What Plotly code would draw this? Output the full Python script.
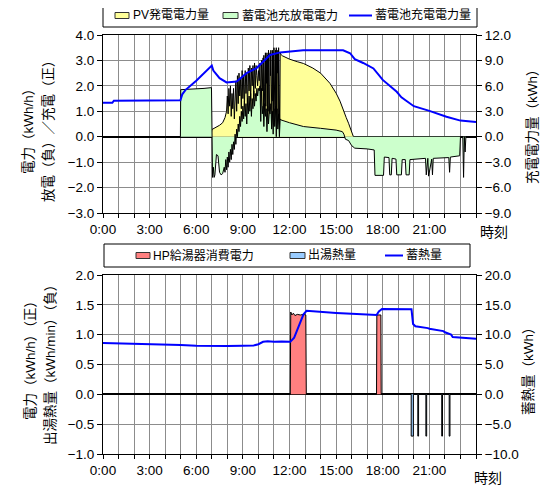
import plotly.graph_objects as go

# ---------------- data: top chart (hours, kWh/h / kWh) ----------------
pv_t = [0, 6.95, 7.0, 7.25, 7.5, 7.7, 7.85, 7.95,
        8.00, 8.05, 8.10, 8.15, 8.20, 8.25, 8.30, 8.35, 8.40, 8.45, 8.50, 8.55,
        8.60, 8.65, 8.70, 8.75, 8.80, 8.85, 8.90, 8.95, 9.00, 9.05, 9.10, 9.15,
        9.20, 9.25, 9.30, 9.35, 9.40, 9.45, 9.50, 9.55, 9.60, 9.65, 9.70, 9.75,
        9.80, 9.85, 9.90, 9.95, 10.00, 10.05, 10.10, 10.15, 10.20, 10.25,
        10.300, 10.325, 10.350, 10.375, 10.400, 10.425, 10.450, 10.475, 10.500,
        10.525, 10.550, 10.575, 10.600, 10.625, 10.650, 10.675, 10.700, 10.725,
        10.750, 10.775, 10.800, 10.825, 10.850, 10.875, 10.900, 10.925, 10.950,
        10.975, 11.000, 11.025, 11.050, 11.075, 11.100, 11.125, 11.150, 11.175,
        11.200, 11.225, 11.250, 11.275, 11.300, 11.325, 11.350, 11.375, 11.400,
        11.425, 11.55, 12.0, 12.5, 12.9, 13.5, 14.0, 14.6, 15.0,
        15.25, 15.45, 15.65, 15.8, 16.0, 16.1, 16.15, 24]
pv_v = [0, 0, 0.28, 0.35, 0.45, 0.55, 0.75, 1.0,
        1.6, 0.9, 1.9, 1.2, 2.0, 0.8, 1.7, 1.1, 1.9, 0.7, 1.5, 2.2,
        1.0, 2.4, 1.3, 2.5, 1.6, 2.3, 1.1, 2.6, 1.5, 2.4, 1.2, 2.6,
        1.7, 2.5, 0.9, 2.7, 1.8, 2.8, 1.4, 2.7, 2.0, 2.8, 1.6, 2.9,
        1.9, 2.8, 2.4, 2.0, 2.6, 2.2, 2.9, 1.0, 3.0, 1.8,
        3.1, 0.8, 3.2, 1.6, 2.9, 0.4, 3.3, 1.2, 3.0,
        2.1, 3.3, 0.3, 3.2, 1.0, 3.4, 1.8, 3.1, 0.5,
        3.3, 2.4, 3.4, 0.9, 3.2, 0.2, 3.4, 1.4, 3.3,
        0.6, 3.5, 2.0, 3.3, 0.1, 3.4, 1.1, 3.5, 0.3,
        3.3, 2.5, 3.4, 0.4, 3.5, 0.9, 3.2, 0.1, 3.3,
        3.25, 3.18, 3.05, 2.95, 2.88, 2.7, 2.5, 2.1, 1.71,
        1.4, 1.05, 0.75, 0.53, 0.13, 0.02, 0, 0]

bat_t = [0, 4.98, 5.0, 5.5, 6.0, 6.5, 6.98,
         7.0, 7.05, 7.1, 7.15, 7.2, 7.3, 7.4, 7.5, 7.6, 7.7, 7.8, 7.85, 7.9, 7.95,
         8.0, 8.05, 8.1, 8.15, 8.2, 8.25, 8.3, 8.35, 8.4, 8.45, 8.5, 8.55, 8.6,
         8.65, 8.7, 8.75, 8.8, 8.85, 8.9, 8.95, 9.0, 9.05, 9.1, 9.15, 9.2, 9.25,
         9.3, 9.35, 9.4, 9.45, 9.5, 9.55, 9.6, 9.65, 9.7, 9.75, 9.8, 9.85, 9.9,
         9.95, 10.0, 10.05, 10.1, 10.15, 10.2, 10.25, 10.3, 10.35, 10.4, 10.45,
         10.5, 10.55, 10.6, 10.65, 10.7, 10.75, 10.8, 10.85, 10.9, 10.95, 11.0,
         11.05, 11.1, 11.15, 11.2, 11.25, 11.3, 11.35, 11.4, 11.45, 12.0, 12.9,
         14.0, 15.0, 15.4, 15.5, 15.6, 15.8, 16.0, 16.2, 17.0, 17.45,
         17.5, 18.05, 18.1, 18.4, 18.45, 18.55, 18.6, 18.85, 18.9, 19.2, 19.25,
         19.45, 19.5, 19.7, 19.75, 20.75, 20.8, 20.9, 20.95, 21.15, 21.2, 21.25,
         22.25, 22.3, 22.35, 22.95, 23.0, 23.15, 23.2, 23.25, 23.3, 23.35, 23.4,
         23.45, 24]
bat_v = [0, 0, 1.85, 1.86, 1.88, 1.9, 1.93,
         -1.0, -1.6, -1.2, -1.6, -1.5, -0.7, -0.75, -1.4, -1.5, -1.45, -1.2, -1.4, -0.9, -1.3,
         -0.8, -1.2, -0.6, -1.0, -0.5, -0.9, -0.3, -0.7, -0.2, -0.5, 0.1, -0.3, 0.3,
         0.0, 0.5, 0.2, 0.8, 0.4, 1.0, 0.6, 1.2, 0.7, 1.4, 0.8, 1.3, 0.5,
         1.5, 0.9, 1.6, 1.0, 1.7, 0.8, 1.5, 1.1, 1.8, 1.2, 1.7, 1.4, 1.9,
         1.6, 1.9, 1.8, 2.0, 0.6, 1.9, 0.9, 1.2, 0.4, 1.3, 0.8,
         1.1, 0.2, 1.2, 0.5, 1.0, 0.9, 1.3, 0.3, 1.0, 0.1, 1.1,
         0.4, 1.2, 0.0, 1.1, 0.3, 0.9, 0.0, 0.7, 0.66, 0.55, 0.4,
         0.33, 0.26, 0.2, 0.1, -0.1, -0.15, -0.35, -0.45, -0.48, -0.52,
         -1.52, -1.52, -0.8, -0.82, -1.5, -1.5, -0.85, -0.88, -1.5, -1.5, -0.9,
         -0.9, -1.5, -1.5, -0.9, -0.85, -1.5, -0.85, -1.55, -0.88, -1.5, -0.85,
         -0.82, -1.4, -0.8, -0.75, 0, 0, -1.6, 0, -0.6, 0, 0,
         0, 0]

soc_t = [0, 0.6, 0.7, 2.0, 3.0, 4.98, 5.1, 5.3, 6.0, 6.5, 7.0, 7.1, 7.5, 7.95,
         8.6, 9.24, 9.88, 10.3, 10.74, 11.4, 12.45, 12.88, 15.45, 15.9, 16.2,
         16.74, 17.4, 18.0, 18.9, 19.2, 20.0, 21.0, 22.1, 23.0, 24.0]
soc_v = [4.0, 4.0, 4.25, 4.25, 4.3, 4.3, 5.0, 5.5, 6.6, 7.5, 8.4, 7.8, 6.9, 6.4,
         6.5, 7.5, 8.1, 8.85, 9.65, 9.95, 10.15, 10.2, 10.2, 9.85, 9.15,
         8.7, 8.05, 6.7, 5.3, 4.65, 3.6, 3.05, 2.35, 1.9, 1.75]

# ---------------- data: bottom chart ----------------
hp_t = [0, 12.05, 12.08, 12.15, 12.25, 12.35, 12.5, 12.7, 12.9, 13.05, 13.08,
        17.6, 17.62, 17.88, 17.9, 24]
hp_v = [0, 0, 1.38, 1.33, 1.36, 1.32, 1.34, 1.33, 1.34, 1.33, 0,
        0, 1.33, 1.33, 0, 0]

hw_t = [19.9, 20.28, 20.8, 21.82, 22.3]
hw_v = [-0.7, -0.7, -0.7, -0.7, -0.7]
hw_w = [0.14, 0.05, 0.05, 0.05, 0.05]   # drawn width of each pulse (hours)

heat_t = [0, 1, 2, 3, 4, 5, 6, 7, 8, 9, 9.7, 10.0, 10.3, 10.6, 11, 11.5, 12.05,
          12.3, 12.6, 12.9, 13.1, 14, 15, 16, 17, 17.6, 17.75, 17.95, 19.85,
          19.95, 20.1, 20.5, 20.9, 21.0, 21.9, 22.0, 22.4, 22.5, 24]
heat_v = [8.6, 8.55, 8.45, 8.35, 8.3, 8.25, 8.15, 8.1, 8.1, 8.15, 8.2, 8.4, 8.8,
          8.9, 8.8, 8.85, 8.8, 9.5, 11.5, 13.4, 14.0, 13.8, 13.65, 13.5, 13.35,
          13.3, 13.9, 14.3, 14.25, 11.8, 11.4, 11.3, 11.1, 11.0, 10.6, 10.4,
          10.0, 9.6, 9.3]

xtick_vals = [0, 3, 6, 9, 12, 15, 18, 21]
xtick_text = ["0:00", "3:00", "6:00", "9:00", "12:00", "15:00", "18:00", "21:00"]

# page body has an 8px margin: the figure is drawn from (8, 8) to (548, 490)
OFF = 8
W, H = 548 - OFF, 490 - OFF
FONT = "Liberation Sans, Arial, Noto Sans CJK JP"
GRID = "#8c8c8c"


def px(x):
    return (x - OFF) / W


def py(y):
    return 1 - (y - OFF) / H


# pulses of hot-water output as a filled step outline
hw_x, hw_y = [], []
for t, v, w in zip(hw_t, hw_v, hw_w):
    hw_x += [t - w / 2, t - w / 2, t + w / 2, t + w / 2, None]
    hw_y += [0, v, v, 0, None]

fig = go.Figure()

fig.add_trace(go.Scatter(x=pv_t, y=pv_v, name="PV発電電力量", mode="lines",
                         fill="tozeroy", fillcolor="#FFFF99",
                         line=dict(color="black", width=1),
                         xaxis="x", yaxis="y"))
fig.add_trace(go.Scatter(x=bat_t, y=bat_v, name="蓄電池充放電電力", mode="lines",
                         fill="tozeroy", fillcolor="#CCFFCC",
                         line=dict(color="black", width=1),
                         xaxis="x", yaxis="y"))
fig.add_trace(go.Scatter(x=soc_t, y=soc_v, name="蓄電池充電電力量", mode="lines",
                         line=dict(color="#0000FF", width=2),
                         xaxis="x", yaxis="y2"))

fig.add_trace(go.Scatter(x=hp_t, y=hp_v, name="HP給湯器消費電力", mode="lines",
                         fill="tozeroy", fillcolor="#FF8080",
                         line=dict(color="black", width=1),
                         xaxis="x2", yaxis="y3"))
fig.add_trace(go.Scatter(x=hw_x, y=hw_y, name="出湯熱量", mode="lines",
                         fill="toself", fillcolor="#99CCFF",
                         line=dict(color="black", width=1),
                         xaxis="x2", yaxis="y3"))
fig.add_trace(go.Scatter(x=heat_t, y=heat_v, name="蓄熱量", mode="lines",
                         line=dict(color="#0000FF", width=2),
                         xaxis="x2", yaxis="y4"))

xdom = [px(103), px(476)]
top_dom = [py(213), py(35)]
bot_dom = [py(454), py(275)]

xcommon = dict(range=[0, 24], tickmode="array", tickvals=xtick_vals,
               ticktext=xtick_text, showgrid=True, gridcolor=GRID, gridwidth=1,
               ticks="outside", ticklen=4, tickcolor="black",
               minor=dict(tickmode="linear", tick0=0, dtick=1, showgrid=True,
                          gridcolor=GRID, gridwidth=1, ticks="outside",
                          ticklen=4, tickcolor="black"),
               showline=True, linecolor="black", linewidth=1, mirror=True,
               zeroline=False, automargin=False,
               tickfont=dict(size=13.5, color="black", family=FONT),
               domain=xdom)

ycommon = dict(showline=True, linecolor="black", linewidth=1, mirror=True,
               ticks="outside", ticklen=5, tickcolor="black", tickformat=".1f",
               showgrid=True, gridcolor=GRID, gridwidth=1, automargin=False,
               zeroline=True, zerolinecolor="black", zerolinewidth=2,
               tickfont=dict(size=13.5, color="black", family=FONT))

y2common = dict(side="right", showgrid=False, zeroline=False, ticks="outside",
                ticklen=5, tickcolor="black", tickformat=".1f", showline=True,
                linecolor="black", linewidth=1, automargin=False,
                tickfont=dict(size=13.5, color="black", family=FONT))

fig.update_layout(
    template="none",
    width=W, height=H,
    margin=dict(l=0, r=0, t=0, b=0, autoexpand=False),
    paper_bgcolor="white", plot_bgcolor="white",
    font=dict(family=FONT, color="black"),
    showlegend=False,
    xaxis=dict(**xcommon, anchor="y"),
    yaxis=dict(**ycommon, range=[-3, 4], dtick=1, domain=top_dom, anchor="x"),
    yaxis2=dict(**y2common, range=[-9, 12], dtick=3, overlaying="y", anchor="x"),
    xaxis2=dict(**xcommon, anchor="y3"),
    yaxis3=dict(**ycommon, range=[-1, 2], dtick=0.5, domain=bot_dom, anchor="x2"),
    yaxis4=dict(**y2common, range=[-10, 20], dtick=5, overlaying="y3", anchor="x2"),
)

# ---------------- legends (boxes drawn in page pixels) ----------------
legend_boxes = [(103, 4, 477, 27), (104, 244, 470, 267)]
for x0, y0, x1, y1 in legend_boxes:
    fig.add_shape(type="rect", xref="paper", yref="paper",
                  x0=px(x0), x1=px(x1), y0=py(y1), y1=py(y0),
                  line=dict(color="black", width=1), fillcolor="white",
                  layer="above")

# (kind, colour, symbol x0, symbol x1, text x, centre y, label)
legend_items = [
    ("rect", "#FFFF99", 115, 129, 131, 15.5, "PV発電電力量"),
    ("rect", "#CCFFCC", 223, 238, 240, 15.5, "蓄電池充放電電力"),
    ("line", "#0000FF", 349, 372, 373, 15.5, "蓄電池充電電力量"),
    ("rect", "#FF8080", 136, 150, 151, 255.5, "HP給湯器消費電力"),
    ("rect", "#99CCFF", 290, 305, 306, 255.5, "出湯熱量"),
    ("line", "#0000FF", 385, 403, 404, 255.5, "蓄熱量"),
]
for kind, col, sx0, sx1, tx, cy, label in legend_items:
    if kind == "rect":
        fig.add_shape(type="rect", xref="paper", yref="paper",
                      x0=px(sx0), x1=px(sx1), y0=py(cy + 3), y1=py(cy - 3),
                      fillcolor=col, line=dict(color="#333333", width=1),
                      layer="above")
    else:
        fig.add_shape(type="line", xref="paper", yref="paper",
                      x0=px(sx0), x1=px(sx1), y0=py(cy), y1=py(cy),
                      line=dict(color=col, width=2), layer="above")
    fig.add_annotation(text=label, x=px(tx), y=py(cy), xref="paper",
                       yref="paper", showarrow=False, xanchor="left",
                       yanchor="middle",
                       font=dict(size=12, family=FONT, color="black"))

ann = [
    ("電力（kWh/h）", 28, 128, -90),
    ("放電（負）／充電（正）", 48, 128, -90),
    ("充電電力量（kWh）", 532, 123, -90),
    ("電力（kWh/h）（正）", 30, 357, -90),
    ("出湯熱量（kWh/min）（負）", 50, 362, -90),
    ("蓄熱量（kWh）", 528, 368, -90),
    ("時刻", 494, 232, 0),
    ("時刻", 488, 478, 0),
]
for text, x, y, ang in ann:
    fig.add_annotation(text=text, x=px(x), y=py(y), xref="paper", yref="paper",
                       showarrow=False, textangle=ang, xanchor="center",
                       yanchor="middle",
                       font=dict(size=13.5 if ang else 14, family=FONT, color="black"))

fig.write_html("out.html")
